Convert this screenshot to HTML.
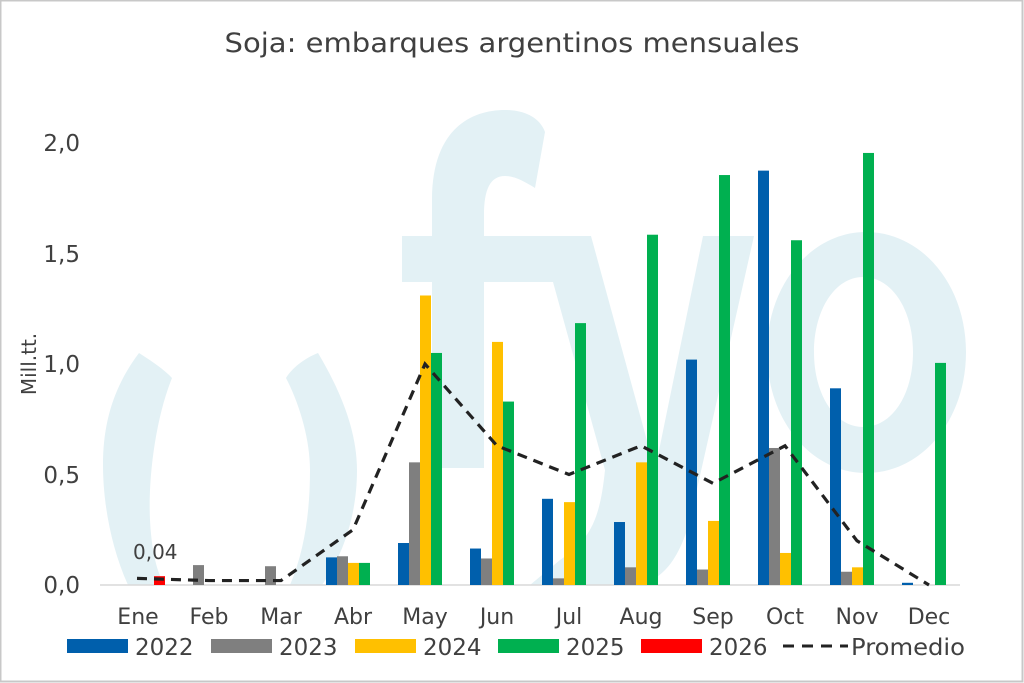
<!DOCTYPE html>
<html><head><meta charset="utf-8"><style>
html,body{margin:0;padding:0;background:#fff}
svg{display:block}
text{font-family:"DejaVu Sans","Liberation Sans",sans-serif;fill:#404040}
</style></head><body>
<svg width="1024" height="683" viewBox="0 0 1024 683" xmlns="http://www.w3.org/2000/svg">
<rect x="0.5" y="0.5" width="1022" height="681" fill="#fff" stroke="#c8c8c8" stroke-width="2"/>
<g fill="#e3f1f5">
<path d="M432,468 L432,200 C432,130 470,110 505,110 C525,110 540,118 545,132 L535,188 C525,182 515,176 505,176 C490,176 484,190 484,215 L484,468 Z"/>
<rect x="402" y="236" width="189" height="46"/>
<path d="M553,282 L591,236 L655,470 L703,236 L754,236 L690,520 C675,575 650,585 630,585 L530,585 L560,560 C590,540 600,520 605,470 Z"/>
<path fill-rule="evenodd" d="M866,232 C922,232 966,285 966,352 C966,420 922,473 866,473 C811,473 767,420 767,352 C767,285 811,232 866,232 Z M863,277 C835,277 814,310 814,352 C814,395 835,427 863,427 C892,427 913,395 913,352 C913,310 892,277 863,277 Z"/>
<path d="M139,353 C150,360 165,370 172,378 C155,420 148,480 150,520 C152,560 160,578 165,585 L128,585 C110,545 103,500 103,465 C103,420 115,385 139,353 Z"/>
<path d="M318,353 C340,390 357,430 357,470 C357,520 340,560 322,585 L290,585 C305,550 310,510 310,470 C310,440 300,405 286,378 C292,368 305,358 318,353 Z"/>
</g>
<text x="512" y="52" font-size="27" text-anchor="middle" textLength="575" lengthAdjust="spacingAndGlyphs">Soja: embarques argentinos mensuales</text>
<line x1="100" y1="585" x2="960" y2="585" stroke="#d9d9d9" stroke-width="1.5"/>
<g font-size="23" text-anchor="end">
<text x="80" y="593">0,0</text>
<text x="80" y="483">0,5</text>
<text x="80" y="372">1,0</text>
<text x="80" y="262">1,5</text>
<text x="80" y="151">2,0</text>
</g>
<text transform="translate(36,364) rotate(-90)" font-size="20" text-anchor="middle">Mill.tt.</text>
<g font-size="22" text-anchor="middle">
<text x="138" y="624">Ene</text><text x="209" y="624">Feb</text><text x="281" y="624">Mar</text><text x="353" y="624">Abr</text><text x="425" y="624">May</text><text x="497" y="624">Jun</text><text x="569" y="624">Jul</text><text x="641" y="624">Aug</text><text x="713" y="624">Sep</text><text x="785" y="624">Oct</text><text x="857" y="624">Nov</text><text x="929" y="624">Dec</text>
</g>
<g id="bars"></g>
<polyline id="avg" fill="none" stroke="#222" stroke-width="3.2" stroke-dasharray="10,7"/>
<text x="133" y="559" font-size="20">0,04</text>
<g font-size="23">
<rect x="67" y="639" width="61" height="14" fill="#005fac"/><text x="135" y="655">2022</text>
<rect x="211" y="639" width="61" height="14" fill="#7f7f7f"/><text x="279" y="655">2023</text>
<rect x="355" y="639" width="61" height="14" fill="#ffc000"/><text x="423" y="655">2024</text>
<rect x="498" y="639" width="61" height="14" fill="#00b050"/><text x="566" y="655">2025</text>
<rect x="641" y="639" width="61" height="14" fill="#ff0000"/><text x="709" y="655">2026</text>
<line x1="783" y1="646" x2="848" y2="646" stroke="#222" stroke-width="3" stroke-dasharray="11,8"/>
<text x="851" y="655" textLength="114" lengthAdjust="spacingAndGlyphs">Promedio</text>
</g>
</svg>
<script>
var d=[[0,0,0,0,0.04],[0,0.09,0,0,0],[0,0.085,0,0,0],[0.125,0.13,0.10,0.10,0],[0.19,0.555,1.31,1.05,0],[0.165,0.12,1.10,0.83,0],[0.39,0.03,0.375,1.185,0],[0.285,0.08,0.555,1.585,0],[1.02,0.07,0.29,1.855,0],[1.875,0.62,0.145,1.56,0],[0.89,0.06,0.08,1.955,0],[0.01,0,0,1.005,0]];
var c=["#005fac","#7f7f7f","#ffc000","#00b050","#ff0000"];
var avg=[0.03,0.02,0.02,0.25,1.0,0.63,0.5,0.63,0.46,0.63,0.2,0.0];
var ns="http://www.w3.org/2000/svg",g=document.getElementById("bars"),pts=[];
for(var i=0;i<12;i++){var cx=132+72*i;for(var j=0;j<5;j++){var v=d[i][j];if(v<=0)continue;var h=v*221;var r=document.createElementNS(ns,"rect");r.setAttribute("x",cx-22+11*j);r.setAttribute("y",585-h);r.setAttribute("width",11);r.setAttribute("height",h);r.setAttribute("fill",c[j]);g.appendChild(r);}
pts.push((cx+5)+","+(585-avg[i]*221));}
document.getElementById("avg").setAttribute("points",pts.join(" "));
</script>
</body></html>
